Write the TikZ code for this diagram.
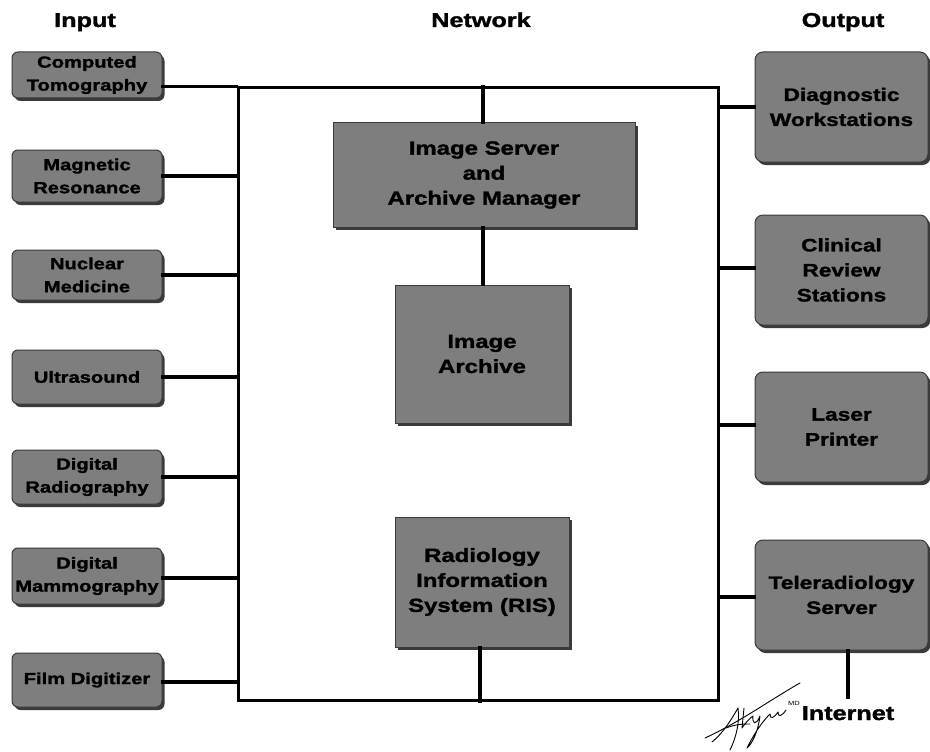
\documentclass[tikz,border=0pt]{standalone}
\usepackage{fontspec}
\newfontfamily\lbl[FakeStretch=1.26, BoldFeatures={FakeBold=1.6}]{Liberation Sans}
\usetikzlibrary{shadows}
\definecolor{boxgray}{HTML}{7E7E7E}
\definecolor{boxedge}{HTML}{3A3A3A}
\tikzset{
  gbox/.style={draw=boxedge, line width=1pt, fill=boxgray, align=center, text=black,
    inner sep=0pt, drop shadow={shadow xshift=2.5pt, shadow yshift=-3pt, fill=black!85, opacity=0.9}},
  inbox/.style={gbox, rounded corners=6pt, minimum width=150pt,
    font=\lbl\bfseries\fontsize{16}{23}\selectfont},
  outbox/.style={gbox, rounded corners=8pt, minimum width=173pt, minimum height=110pt,
    font=\lbl\bfseries\fontsize{18}{25}\selectfont},
  netbox/.style={gbox, rounded corners=0pt, font=\lbl\bfseries\fontsize{19}{25}\selectfont},
  header/.style={font=\lbl\bfseries\fontsize{20}{24}\selectfont, inner sep=0pt, anchor=base},
  wire/.style={line width=3.2pt, line cap=rect},
  sig/.style={line width=0.9pt, line cap=round, line join=round}
}
\begin{document}
\begin{tikzpicture}[x=1pt, y=-1pt]
\useasboundingbox (0,0) rectangle (930,752);
\fill[white] (0,0) rectangle (930,752);

% headers
\node[header] (hin) at (85,27) {Input};
\node[header] (hnet) at (481,27) {Network};
\node[header] (hout) at (843,27) {Output};

% network frame
\node[draw, line width=3pt, fill=white, minimum width=480pt, minimum height=612pt, inner sep=0pt] (net) at (478,394) {};

% inputs
\node[inbox, minimum height=46pt] (ct) at (87,75) {Computed\\Tomography};
\node[inbox, minimum height=52pt] (mr) at (87,176) {Magnetic\\Resonance};
\node[inbox, minimum height=50pt] (nm) at (87,275) {Nuclear\\Medicine};
\node[inbox, minimum height=54pt] (us) at (87,377) {Ultrasound};
\node[inbox, minimum height=54pt] (dr) at (87,477) {Digital\\Radiography};
\node[inbox, minimum height=56pt] (dm) at (87,576) {Digital\\Mammography};
\node[inbox, minimum height=54pt] (fd) at (87,680) {Film Digitizer};

% outputs
\node[outbox] (dw) at (841.5,107) {Diagnostic\\Workstations};
\node[outbox] (cr) at (841.5,270) {Clinical\\Review\\Stations};
\node[outbox] (lp) at (841.5,427) {Laser\\Printer};
\node[outbox] (tr) at (841.5,595) {Teleradiology\\Server};
\node[header] (inet) at (848,720) {Internet};

% central
\node[netbox, minimum width=302pt, minimum height=104pt] (ism) at (484,175) {Image Server\\and\\Archive Manager};
\node[netbox, minimum width=174pt, minimum height=138pt] (ia) at (482,354) {Image\\Archive};
\node[netbox, minimum width=174pt, minimum height=130pt] (ris) at (482,582) {Radiology\\Information\\System (RIS)};

% input wires
\draw[wire] (ct.east |- net.north west) -- (net.north west);
\foreach \n/\y in {mr/176, nm/275, us/377, dr/477, dm/578, fd/682}
  \draw[wire] (\n.east |- 0,\y) -- (net.west |- 0,\y);

% output wires
\foreach \n/\y in {dw/107, cr/268, lp/425, tr/597}
  \draw[wire] (net.east |- 0,\y) -- (\n.west |- 0,\y);
\draw[wire] (tr.south -| inet) -- (848,697);

% central wires
\draw[wire] (ism.north -| 483,0) -- (net.north -| 483,0);
\draw[wire] (ism.south -| 483,0) -- (ia.north -| 483,0);
\draw[wire] (ris.south -| 480,0) -- (net.south -| 480,0);

% signature
\draw[sig] (705,738) .. controls (740,722) and (770,700) .. (800,683);
\draw[sig] (712,742) .. controls (722,734) and (730,722) .. (738,708)
  .. controls (740,722) and (736,738) .. (730,750);
\draw[sig] (726,728) .. controls (736,724) and (744,724) .. (750,724);
\draw[sig] (744,708) -- (742,728) .. controls (746,722) and (750,718) .. (753,716)
  .. controls (752,724) and (756,726) .. (760,716)
  .. controls (758,732) and (752,744) .. (747,748)
  .. controls (756,730) and (764,720) .. (770,714)
  .. controls (770,720) and (774,718) .. (778,712)
  .. controls (778,718) and (782,716) .. (786,710);
\node[font=\lbl\fontsize{6}{6}\selectfont, inner sep=0pt] (md) at (794,703) {MD};
\end{tikzpicture}
\end{document}
